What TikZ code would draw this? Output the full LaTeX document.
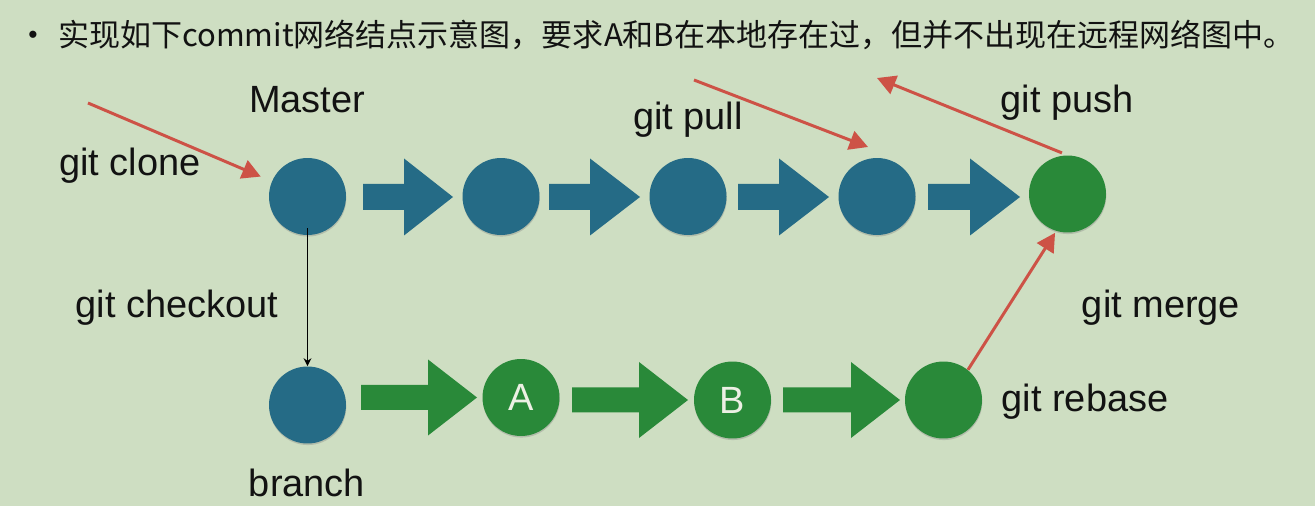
\documentclass[tikz,border=0pt]{standalone}
\usepackage{fontspec}
\setmainfont{Liberation Sans}
\newfontfamily\cjk{Noto Sans CJK SC}
\usetikzlibrary{arrows.meta,shadows,calc}
\definecolor{bg}{RGB}{206,222,194}
\definecolor{nodeblue}{RGB}{37,107,134}
\definecolor{nodegreen}{RGB}{41,137,57}
\definecolor{redline}{RGB}{205,82,70}
\definecolor{lettercol}{RGB}{236,240,228}
\definecolor{txt}{RGB}{18,18,18}
\newcommand\blockarrow[7]{%
  \fill[#7] (#1,{#4-#5}) -- (#2,{#4-#5}) -- (#2,{#4-#6}) -- (#3,#4) -- (#2,{#4+#6}) -- (#2,{#4+#5}) -- (#1,{#4+#5}) -- cycle;}
\begin{document}
\begin{tikzpicture}[x=0.02cm,y=-0.02cm,
  commit/.style={circle,minimum size=1.54cm,inner sep=0pt,
    drop shadow={opacity=0.35,shadow xshift=0.2pt,shadow yshift=-0.9pt}},
  bluec/.style={commit,fill=nodeblue},
  greenc/.style={commit,fill=nodegreen,text=lettercol,font=\fontsize{21.6}{24}\selectfont},
  lbl/.style={anchor=base,text=txt,font=\fontsize{21.6}{24}\selectfont,inner sep=0pt},
  redarrow/.style={draw=redline,line width=1.7pt,-{Triangle[length=10.5pt,width=11pt]}},
  checkarrow/.style={draw=black,line width=0.75pt,-{Stealth[length=4.5pt,width=4.5pt]}}]
\fill[bg] (0,0) rectangle (1315,506);
\useasboundingbox (0,0) rectangle (1315,506);
% title
\node[text=txt,font=\fontsize{15}{18}\selectfont,inner sep=0pt] (bullet) at (33,37) {•};
\node[anchor=base west,text=txt,font=\cjk\fontsize{17.65}{20}\selectfont,inner sep=0pt] (title) at (58,47)
  {实现如下commit网络结点示意图，要求A和B在本地存在过，但并不出现在远程网络图中。};
% block arrows (top, blue)
\blockarrow{363}{404}{453}{197}{13}{38.5}{nodeblue}
\blockarrow{549}{590}{640}{197}{13}{38.5}{nodeblue}
\blockarrow{738}{779}{829}{197}{13}{38.5}{nodeblue}
\blockarrow{928}{970}{1020}{197}{13}{38.5}{nodeblue}
% block arrows (bottom, green)
\blockarrow{361}{428}{477}{397.5}{12.5}{38}{nodegreen}
\blockarrow{572}{639}{688}{400}{12.5}{38}{nodegreen}
\blockarrow{783}{851}{900}{400}{12.5}{38}{nodegreen}
% commits
\node[bluec] (c1) at (307.5,196.5) {};
\node[bluec] (c2) at (501,196.5) {};
\node[bluec] (c3) at (688,196.5) {};
\node[bluec] (c4) at (877,196.5) {};
\node[greenc] (c5) at (1067.5,194) {};
\node[bluec] (c6) at (307.5,405) {};
\node[greenc] (cA) at (521,397.5) {A};
\node[greenc] (cB) at (732.5,400) {B};
\node[greenc] (c9) at (943.5,400) {};
% labels
\node[lbl] (lmaster) at (307,113) {Master};
\node[lbl] (lclone) at (130,176) {git clone};
\node[lbl] (lpull) at (688,130) {git pull};
\node[lbl] (lpush) at (1067,113) {git push};
\node[lbl] (lcheckout) at (177,318) {git checkout};
\node[lbl] (lmerge) at (1161,318) {git merge};
\node[lbl] (lrebase) at (1085,412) {git rebase};
\node[lbl] (lbranch) at (307,496) {branch};
% connectors
\coordinate (cloneTail) at (88,103);
\coordinate (pullTail) at (694,80);
\coordinate (pullTip) at (868,147);
\coordinate (pushTip) at (877,78);
\draw[redarrow,shorten >=0.24cm] (cloneTail) -- (c1);
\draw[redarrow] (pullTail) -- (pullTip);
\draw[redarrow,shorten <=0.12cm] (c5.north) -- (pushTip);
\draw[redarrow,shorten >=0.04cm] (c9.51) -- (c5.253);
\draw[checkarrow] ($(c1.south)+(0,-7)$) -- (c6.north);
\end{tikzpicture}
\end{document}
